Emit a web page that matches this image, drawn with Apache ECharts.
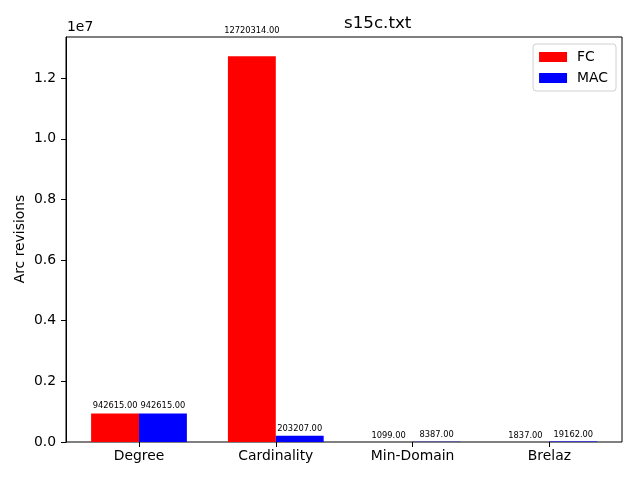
<!DOCTYPE html>
<html>
<head>
<meta charset="utf-8">
<script src="https://cdn.jsdelivr.net/npm/echarts@6/dist/echarts.min.js"></script>
<style>html,body{margin:0;padding:0;background:#fff}#c{width:640px;height:480px}</style>
</head>
<body>
<div id="c"></div>
<script>
var categories = ['Degree', 'Cardinality', 'Min-Domain', 'Brelaz'];
var fcValues = [942615, 12720314, 1099, 1837];
var macValues = [942615, 203207, 8387, 19162];
var yTicks = [0, 2000000, 4000000, 6000000, 8000000, 10000000, 12000000];
var titleText = 's15c.txt';
var yAxisTitle = 'Arc revisions';
var seriesNames = ['FC', 'MAC'];

var FONT = 'DejaVu Sans';
var yMax = Math.max.apply(null, fcValues.concat(macValues)) * 1.05;
var labelPad = 0.05;

function padData(arr) { return arr.map(function (v) { return v * labelPad; }); }
function labelFor(arr) {
  return {
    show: true, position: 'top', distance: 2,
    fontFamily: FONT, fontSize: 8.3, lineHeight: 9, color: '#000',
    formatter: function (p) { return arr[p.dataIndex].toFixed(2); }
  };
}

var chart = echarts.init(document.getElementById('c'), null, { renderer: 'canvas' });
chart.setOption({
  animation: false,
  backgroundColor: '#fff',
  textStyle: { fontFamily: FONT },
  grid: [
    { left: 66, right: 18, top: 37, bottom: 38, show: true, borderColor: '#000', borderWidth: 1, backgroundColor: 'transparent' },
    { left: 70.6, width: 547.2, top: 37, bottom: 38, show: false }
  ],
  xAxis: [
    { type: 'value', gridIndex: 0, show: false, min: 0, max: 1 },
    {
      type: 'category', gridIndex: 1, data: categories,
      axisLine: { show: false },
      axisTick: { show: true, alignWithLabel: true, length: 5, lineStyle: { color: '#000' } },
      axisLabel: { fontFamily: FONT, fontSize: 13.9, color: '#000', margin: 7 }
    }
  ],
  yAxis: [
    {
      type: 'value', gridIndex: 0, min: 0, max: yMax, interval: 2000000,
      axisLine: { show: true, lineStyle: { color: '#000' } },
      axisTick: { show: true, length: 5, lineStyle: { color: '#000' } },
      splitLine: { show: false },
      axisLabel: {
        fontFamily: FONT, fontSize: 13.9, color: '#000', margin: 10,
        showMaxLabel: false,
        formatter: function (v) {
          return yTicks.indexOf(v) >= 0 ? (v / 1e7).toFixed(1) : '';
        }
      }
    },
    { type: 'value', gridIndex: 1, min: 0, max: yMax, show: false }
  ],
  legend: {
    data: seriesNames,
    orient: 'vertical', right: 24, top: 44,
    itemWidth: 28, itemHeight: 10, itemGap: 7,
    padding: [6, 8, 6, 6],
    borderColor: '#d0d0d0', borderWidth: 1, borderRadius: 3,
    backgroundColor: 'rgba(255,255,255,0.8)',
    textStyle: { fontFamily: FONT, fontSize: 13.9, color: '#000', padding: [0, 0, 0, 5] },
    icon: 'rect'
  },
  graphic: [
    { type: 'text', left: 344, top: 15, style: { text: titleText, font: '16.7px "DejaVu Sans"', fill: '#000', textAlign: 'center' } },
    { type: 'text', left: 67, top: 20, style: { text: '1e7', font: '13.9px "DejaVu Sans"', fill: '#000' } },
    { type: 'text', x: 20, y: 239, rotation: Math.PI / 2,
      style: { text: yAxisTitle, font: '13.9px "DejaVu Sans"', fill: '#000', textAlign: 'center', textVerticalAlign: 'middle' } }
  ],
  series: [
    { name: seriesNames[0], type: 'bar', xAxisIndex: 1, yAxisIndex: 1, stack: 'fc', data: fcValues,
      barWidth: '35%', barGap: '0%', itemStyle: { color: '#ff0000' }, silent: true },
    { name: 'fcPad', type: 'bar', xAxisIndex: 1, yAxisIndex: 1, stack: 'fc', data: padData(fcValues),
      barWidth: '35%', barGap: '0%', itemStyle: { color: 'rgba(0,0,0,0)' }, silent: true, label: labelFor(fcValues) },
    { name: seriesNames[1], type: 'bar', xAxisIndex: 1, yAxisIndex: 1, stack: 'mac', data: macValues,
      barWidth: '35%', barGap: '0%', itemStyle: { color: '#0000ff' }, silent: true },
    { name: 'macPad', type: 'bar', xAxisIndex: 1, yAxisIndex: 1, stack: 'mac', data: padData(macValues),
      barWidth: '35%', barGap: '0%', itemStyle: { color: 'rgba(0,0,0,0)' }, silent: true, label: labelFor(macValues) }
  ]
});
</script>
</body>
</html>
